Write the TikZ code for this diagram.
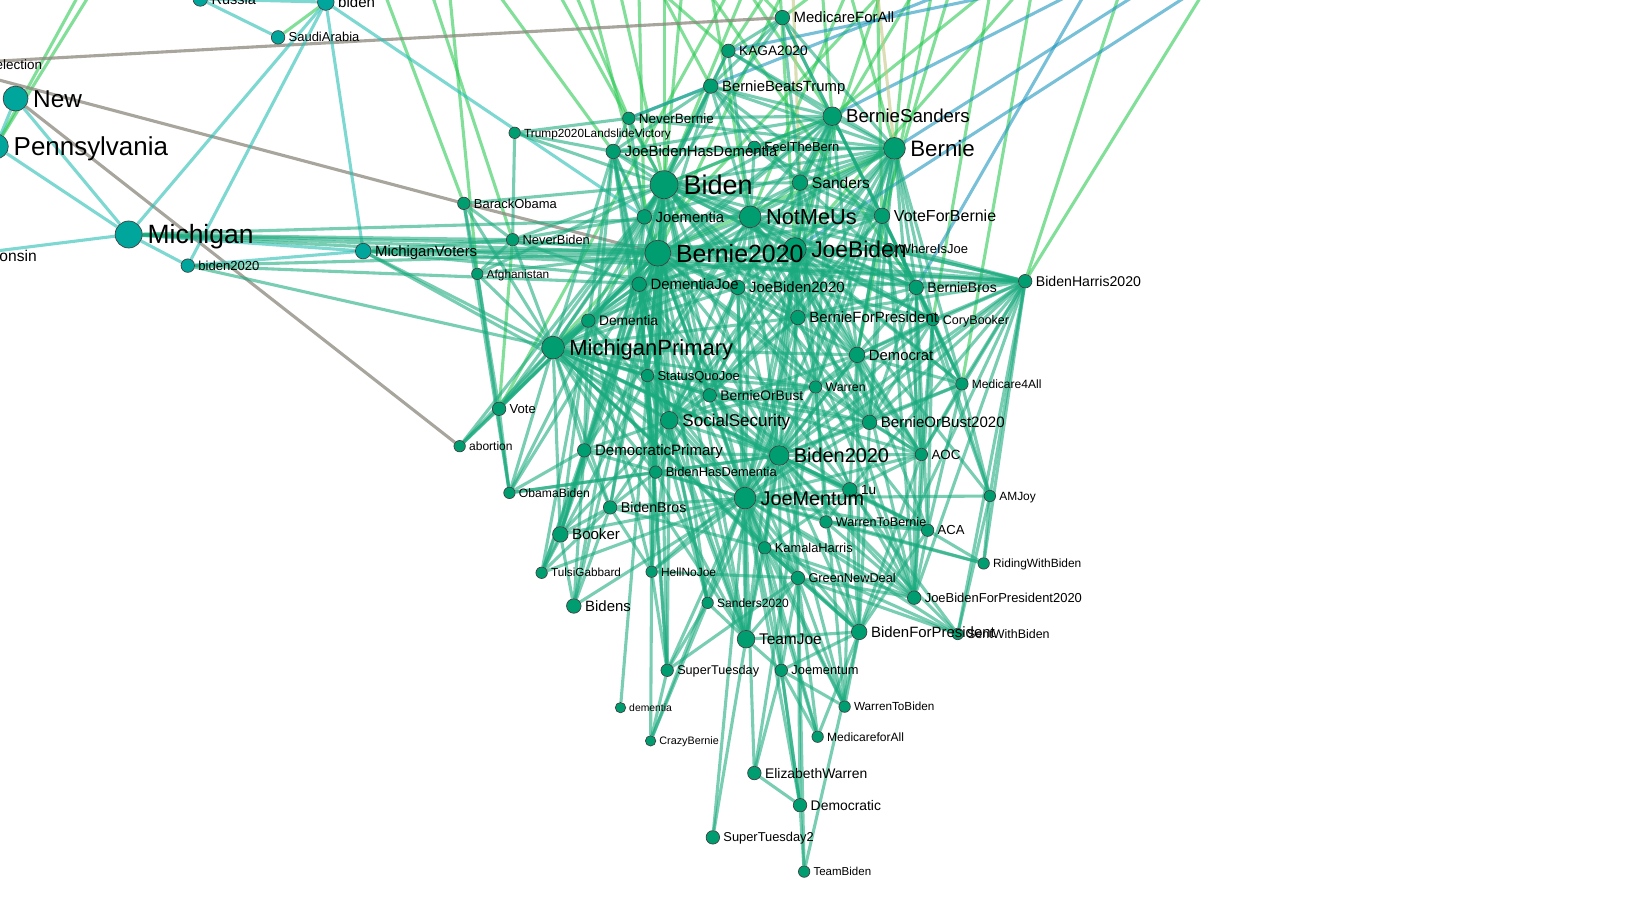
\documentclass[tikz,border=0pt]{standalone}
\usepackage{fontspec}
\setmainfont{Liberation Sans}
\definecolor{nodeG}{RGB}{0,157,113}
\definecolor{nodeT}{RGB}{0,166,155}
\definecolor{edgeM}{RGB}{25,170,125}
\definecolor{edgeT}{RGB}{40,190,180}
\definecolor{edgeG}{RGB}{40,200,80}
\definecolor{edgeGr}{RGB}{140,135,125}
\definecolor{edgeB}{RGB}{30,150,190}
\definecolor{edgeY}{RGB}{195,200,130}
\pgfdeclarelayer{bg}
\pgfdeclarelayer{edges}
\pgfdeclarelayer{labels}
\pgfsetlayers{bg,edges,main,labels}
\tikzset{
  nd/.style={circle, draw=black!75, line width=0.35pt, inner sep=0pt},
  e/.style={draw=edgeM, draw opacity=0.58, line width=1.55pt},
  et/.style={draw=edgeT, draw opacity=0.6, line width=1.55pt},
  eg/.style={draw=edgeG, draw opacity=0.58, line width=1.55pt},
  egr/.style={draw=edgeGr, draw opacity=0.75, line width=1.55pt},
  eb/.style={draw=edgeB, draw opacity=0.6, line width=1.55pt},
  ey/.style={draw=edgeY, draw opacity=0.6, line width=1.55pt},
  lbl/.style={anchor=base west, inner sep=0pt, text=black}
}
\newcommand\hn[7]{%
  \node[nd, fill=#7, minimum size={#4*1.0376pt}] (#1) at (#2,#3) {};
  \pgfmathsetmacro\fsz{#5*0.5188}%
  \pgfmathsetmacro\gapx{(1.5+0.12*#5)*0.5188}%
  \pgfmathsetmacro\gapy{0.358*\fsz}%
  \begin{pgfonlayer}{labels}
    \node[lbl, font=\fontsize{\fsz pt}{\fsz pt}\selectfont] (#1-l) at ([xshift=\gapx pt, yshift=-\gapy pt]#1.east) {#6};
  \end{pgfonlayer}}
\newcommand\hub[2]{\foreach \b in {#2}{\draw[e] (#1) -- (\b);}}
\begin{document}
\begin{tikzpicture}[x=0.5188pt, y=-0.5188pt]
\useasboundingbox (0,0) rectangle (1568,865);
\begin{pgfonlayer}{bg}
\fill[white] (0,0) rectangle (1568,865);
\end{pgfonlayer}

% ---------- left (teal) cluster ----------
\hn{Russia}{193}{-1}{7}{14}{Russia}{nodeT}
\hn{biden}{314}{2}{8}{14.5}{biden}{nodeT}
\hn{SaudiArabia}{268}{36}{6.5}{12.5}{SaudiArabia}{nodeT}
\hn{New}{15}{95}{12}{23.5}{New}{nodeT}
\hn{Pennsylvania}{-4}{141}{12}{25}{Pennsylvania}{nodeT}
\hn{Michigan}{124}{226}{13}{25.5}{Michigan}{nodeT}
\hn{biden2020}{181}{256}{6.5}{12.6}{biden2020}{nodeT}
\hn{MichiganVoters}{350}{242}{7.5}{14.4}{MichiganVoters}{nodeT}
\hn{Wisconsin}{-45}{247}{8}{15}{Wisconsin}{nodeT}
\node[nd, fill=nodeT, minimum size={7*1.0376pt}] (election) at (-58,62) {};
\begin{pgfonlayer}{labels}
\node[anchor=base east, inner sep=0pt, font=\fontsize{6.74pt}{6.74pt}\selectfont] (election-l) at (41,66.6) {election};
\end{pgfonlayer}

% ---------- main cluster ----------
\hn{Biden}{640}{178}{13.5}{26}{Biden}{nodeG}
\hn{Bernie2020}{634}{244}{12.5}{24}{Bernie2020}{nodeG}
\hn{NotMeUs}{723}{209}{10.5}{21}{NotMeUs}{nodeG}
\hn{WhereIsJoe}{857}{240}{5.5}{12.5}{WhereIsJoe}{nodeG}
\hn{JoeBiden}{766}{240}{11}{22}{JoeBiden}{nodeG}
\hn{Bernie}{862}{143}{10.5}{21.5}{Bernie}{nodeG}
\hn{BernieSanders}{802}{112}{9}{18}{BernieSanders}{nodeG}
\hn{Sanders}{771}{176}{7.5}{15}{Sanders}{nodeG}
\hn{VoteForBernie}{850}{208}{7.5}{15.4}{VoteForBernie}{nodeG}
\hn{Joementia}{621}{209}{7}{14.3}{Joementia}{nodeG}
\hn{JoeBidenHasDementia}{591}{146}{7}{14.4}{JoeBidenHasDementia}{nodeG}
\hn{FeelTheBern}{727}{142}{6}{12.5}{FeelTheBern}{nodeG}
\hn{NeverBernie}{606}{114}{6}{13}{NeverBernie}{nodeG}
\hn{Trump2020LandslideVictory}{496}{128}{5.5}{11.4}{Trump2020LandslideVictory}{nodeG}
\hn{BernieBeatsTrump}{685}{83}{7}{14.3}{BernieBeatsTrump}{nodeG}
\hn{KAGA2020}{702}{49}{6.5}{13.2}{KAGA2020}{nodeG}
\hn{MedicareForAll}{754}{17}{7}{14.4}{MedicareForAll}{nodeG}
\hn{BarackObama}{447}{196}{6}{12.5}{BarackObama}{nodeG}
\hn{NeverBiden}{494}{231}{6}{12.4}{NeverBiden}{nodeG}
\hn{Afghanistan}{460}{264}{5.5}{11.4}{Afghanistan}{nodeG}
\hn{DementiaJoe}{616}{274}{7}{14.4}{DementiaJoe}{nodeG}
\hn{JoeBiden2020}{711}{277}{7}{14.4}{JoeBiden2020}{nodeG}
\hn{BernieBros}{883}{277}{7}{13.5}{BernieBros}{nodeG}
\hn{BidenHarris2020}{988}{271}{6.5}{13.6}{BidenHarris2020}{nodeG}
\hn{Dementia}{567}{309}{6.5}{13.3}{Dementia}{nodeG}
\hn{BernieForPresident}{769}{306}{7}{14.4}{BernieForPresident}{nodeG}
\hn{CoryBooker}{899}{308}{6}{12.1}{CoryBooker}{nodeG}
\hn{MichiganPrimary}{533}{335}{11}{21.2}{MichiganPrimary}{nodeG}
\hn{Democrat}{826}{342}{7.5}{14.3}{Democrat}{nodeG}
\hn{StatusQuoJoe}{624}{362}{6}{12.5}{StatusQuoJoe}{nodeG}
\hn{Warren}{786}{373}{6}{11.9}{Warren}{nodeG}
\hn{Medicare4All}{927}{370}{6}{11.6}{Medicare4All}{nodeG}
\hn{BernieOrBust}{684}{381}{6.5}{13.3}{BernieOrBust}{nodeG}
\hn{Vote}{481}{394}{6.5}{12.6}{Vote}{nodeG}
\hn{SocialSecurity}{645}{405}{8.5}{16.4}{SocialSecurity}{nodeG}
\hn{BernieOrBust2020}{838}{407}{7}{14.5}{BernieOrBust2020}{nodeG}
\hn{abortion}{443}{430}{5.5}{11.6}{abortion}{nodeG}
\hn{DemocraticPrimary}{563}{434}{6.5}{14.5}{DemocraticPrimary}{nodeG}
\hn{Biden2020}{751}{439}{9.5}{19.2}{Biden2020}{nodeG}
\hn{AOC}{888}{438}{6}{12.9}{AOC}{nodeG}
\hn{BidenHasDementia}{632}{455}{6}{12.4}{BidenHasDementia}{nodeG}
\hn{oneu}{819}{472}{7}{13}{1u}{nodeG}
\hn{ObamaBiden}{491}{475}{5.5}{11.7}{ObamaBiden}{nodeG}
\hn{AMJoy}{954}{478}{5.5}{11.5}{AMJoy}{nodeG}
\hn{JoeMentum}{718}{480}{10.5}{19.1}{JoeMentum}{nodeG}
\hn{BidenBros}{588}{489}{6.5}{13.7}{BidenBros}{nodeG}
\hn{WarrenToBernie}{796}{503}{6}{12.1}{WarrenToBernie}{nodeG}
\hn{ACA}{894}{511}{6}{12.6}{ACA}{nodeG}
\hn{Booker}{540}{515}{7.5}{14.5}{Booker}{nodeG}
\hn{KamalaHarris}{737}{528}{6}{12.4}{KamalaHarris}{nodeG}
\hn{RidingWithBiden}{948}{543}{5.5}{11.5}{RidingWithBiden}{nodeG}
\hn{TulsiGabbard}{522}{552}{5.5}{11.3}{TulsiGabbard}{nodeG}
\hn{HellNoJoe}{628}{551}{5.5}{11.5}{HellNoJoe}{nodeG}
\hn{GreenNewDeal}{769}{557}{6.5}{12.3}{GreenNewDeal}{nodeG}
\hn{JoeBidenForPresident2020}{881}{576}{6.5}{12.5}{JoeBidenForPresident2020}{nodeG}
\hn{Sanders2020}{682}{581}{5.5}{11.6}{Sanders2020}{nodeG}
\hn{Bidens}{553}{584}{7}{14.4}{Bidens}{nodeG}
\hn{TeamJoe}{719}{616}{8.5}{14.9}{TeamJoe}{nodeG}
\hn{BidenForPresident}{828}{609}{7.5}{14.4}{BidenForPresident}{nodeG}
\hn{SentWithBiden}{923}{611}{5.5}{12}{SentWithBiden}{nodeG}
\hn{SuperTuesday}{643}{646}{6}{12.2}{SuperTuesday}{nodeG}
\hn{Joementum}{753}{646}{6}{12.4}{Joementum}{nodeG}
\hn{dementia}{598}{682}{5}{10}{dementia}{nodeG}
\hn{WarrenToBiden}{814}{681}{5.5}{11.3}{WarrenToBiden}{nodeG}
\hn{CrazyBernie}{627}{714}{5}{10.4}{CrazyBernie}{nodeG}
\hn{MedicareforAll}{788}{710}{5.5}{11.6}{MedicareforAll}{nodeG}
\hn{ElizabethWarren}{727}{745}{6.5}{13.4}{ElizabethWarren}{nodeG}
\hn{Democratic}{771}{776}{6.5}{13.4}{Democratic}{nodeG}
\hn{SuperTuesday2}{687}{807}{6.5}{12.4}{SuperTuesday2}{nodeG}
\hn{TeamBiden}{775}{840}{5.5}{11.1}{TeamBiden}{nodeG}

% off-canvas ends at the top
\foreach \x in {95,108,358,405,430,455,520,540,560,590,600,615,620,640,660,680,700,720,730,750,760,763,770,790,810,830,842,845,860,880,900,905,925,960,990,995,1000,1010,1065,1090,1100,1130,1150,1180,1200}
  {\coordinate (top\x) at (\x,-40);}

\begin{pgfonlayer}{edges}
% green edges leaving the top
\foreach \x/\n in {95/Pennsylvania,108/Pennsylvania,358/BarackObama,405/NeverBiden,430/Afghanistan,455/JoeBidenHasDementia,520/Biden,540/NeverBernie,560/Bernie2020,590/Biden,600/KAGA2020,615/Joementia,620/BernieBeatsTrump,640/Biden,660/Bernie2020,680/NotMeUs,700/BernieSanders,720/Vote,730/Biden,750/JoeBiden,760/KAGA2020,770/Bernie2020,790/BernieSanders,810/Bernie,830/NotMeUs,845/VoteForBernie,860/JoeBiden,880/Bernie,900/Sanders,905/Democrat,925/VoteForBernie,960/CoryBooker,990/BernieSanders,1000/Medicare4All,1010/JoeBiden,1090/BidenHarris2020,1180/BidenHarris2020,700/MedicareForAll,830/MedicareForAll,880/MichiganPrimary,660/BernieBros}
  {\draw[eg] (top\x) -- (\n);}
\foreach \x/\n in {1130/KAGA2020,1100/BernieSanders,1200/JoeBiden,1065/BernieBros,1150/Bernie,995/NeverBernie}
  {\draw[eb] (top\x) -- (\n);}
\foreach \x/\n in {842/Bernie,763/Sanders}
  {\draw[ey] (top\x) -- (\n);}
\draw[eg] (biden) -- (SaudiArabia);
\draw[eg] (Biden) -- (BernieSanders);
\draw[eg] (Bernie2020) -- (Bernie);
\draw[eg] (Vote) -- (NeverBiden);

% grey edges
\draw[egr] (election) -- (MedicareForAll);
\draw[egr] (election) -- (BarackObama);
\draw[egr] (BarackObama) -- (Bernie2020);
\draw[egr] (New) -- (abortion);

% teal left edges
\foreach \a/\b in {Russia/biden,Russia/SaudiArabia,biden/Michigan,biden/biden2020,biden/MichiganVoters,biden/Joementia,New/Pennsylvania,New/Michigan,Pennsylvania/Michigan,Wisconsin/Michigan,Michigan/biden2020,Michigan/MichiganVoters,biden2020/MichiganVoters}
  {\draw[et] (\a) -- (\b);}

% Michigan bundle
\hub{Michigan}{NeverBiden,Bernie2020,JoeBiden,NotMeUs,BidenHarris2020}
\hub{MichiganVoters}{NeverBiden,Bernie2020,JoeBiden,MichiganPrimary,SocialSecurity,BidenHarris2020,JoeBiden2020}
\hub{biden2020}{Bernie2020,MichiganPrimary,JoeBiden2020}

% hubs
\hub{Biden}{JoeBidenHasDementia,Joementia,NotMeUs,Bernie2020,DementiaJoe,JoeBiden2020,Dementia,MichiganPrimary,StatusQuoJoe,BernieOrBust,SocialSecurity,DemocraticPrimary,Biden2020,BidenHasDementia,JoeMentum,BidenBros,Booker,HellNoJoe,Sanders,Bernie,VoteForBernie,JoeBiden,BernieForPresident,Democrat,Warren,BernieBros,FeelTheBern,NeverBernie,Trump2020LandslideVictory,BarackObama,NeverBiden,Afghanistan,Vote,ObamaBiden,abortion,BidenHarris2020,BernieBeatsTrump,KAGA2020,MedicareForAll,dementia,TeamJoe,BernieOrBust2020,AOC,CoryBooker}
\hub{Bernie2020}{Joementia,NotMeUs,DementiaJoe,JoeBiden2020,Dementia,MichiganPrimary,StatusQuoJoe,BernieOrBust,SocialSecurity,DemocraticPrimary,Biden2020,BidenHasDementia,JoeMentum,BidenBros,Booker,HellNoJoe,Sanders,BernieSanders,VoteForBernie,JoeBiden,BernieForPresident,Democrat,Warren,BernieBros,NeverBiden,Afghanistan,Vote,ObamaBiden,abortion,BidenHarris2020,TeamJoe,Bidens,TulsiGabbard,SuperTuesday,Sanders2020,GreenNewDeal,KamalaHarris,BernieOrBust2020,oneu,WhereIsJoe,JoeBidenHasDementia,BernieBeatsTrump,CoryBooker}
\hub{NotMeUs}{JoeBiden,Bernie,BernieSanders,Sanders,VoteForBernie,FeelTheBern,BernieBeatsTrump,JoeBidenHasDementia,MichiganPrimary,Joementia,DementiaJoe,BernieForPresident,Democrat,BernieOrBust,SocialSecurity,Biden2020,JoeMentum,BernieBros,BidenHarris2020,StatusQuoJoe,Warren,BernieOrBust2020,AOC,Medicare4All,CoryBooker,DemocraticPrimary,KAGA2020}
\hub{JoeBiden}{Bernie,BernieSanders,Sanders,VoteForBernie,WhereIsJoe,BernieBros,BidenHarris2020,JoeBiden2020,BernieForPresident,Democrat,MichiganPrimary,SocialSecurity,Biden2020,JoeMentum,Warren,BernieOrBust2020,AOC,CoryBooker,Medicare4All,TeamJoe,DementiaJoe,Dementia,BidenHasDementia,GreenNewDeal,KamalaHarris,JoeBidenForPresident2020,AMJoy}
\hub{Bernie}{BernieSanders,Sanders,VoteForBernie,FeelTheBern,BernieBros,BernieForPresident,Democrat,BernieOrBust,BernieOrBust2020,CoryBooker,Medicare4All,AOC,MichiganPrimary,SocialSecurity,JoeMentum,Biden2020,Warren,JoeBidenHasDementia,BernieBeatsTrump,NeverBernie,Joementia,DementiaJoe,MedicareForAll,KAGA2020}
\hub{BernieSanders}{Sanders,VoteForBernie,FeelTheBern,BernieBeatsTrump,MedicareForAll,KAGA2020,JoeBidenHasDementia,Joementia,BernieForPresident,Democrat,BernieBros,Warren,SocialSecurity,MichiganPrimary,JoeMentum,BernieOrBust,NeverBernie}
\hub{MichiganPrimary}{Joementia,DementiaJoe,Dementia,StatusQuoJoe,BernieOrBust,SocialSecurity,DemocraticPrimary,Biden2020,BidenHasDementia,JoeMentum,BidenBros,Booker,Vote,abortion,ObamaBiden,NeverBiden,BarackObama,Afghanistan,JoeBidenHasDementia,BernieForPresident,Democrat,Warren,BernieOrBust2020,AOC,KamalaHarris,GreenNewDeal,TeamJoe,BidenForPresident,JoeBiden2020,oneu,ACA}
\hub{JoeMentum}{Biden2020,BidenHasDementia,SocialSecurity,BernieOrBust,StatusQuoJoe,DemocraticPrimary,BidenBros,Booker,KamalaHarris,WarrenToBernie,ACA,oneu,GreenNewDeal,TeamJoe,BidenForPresident,Sanders2020,SuperTuesday,Joementum,HellNoJoe,CrazyBernie,WarrenToBiden,MedicareforAll,ElizabethWarren,SuperTuesday2,JoeBidenForPresident2020,RidingWithBiden,SentWithBiden,AOC,BernieOrBust2020,Democrat,Warren,BernieForPresident,JoeBiden2020,DementiaJoe,Dementia,AMJoy,BidenHarris2020,TulsiGabbard,Bidens,Democratic}
\hub{Biden2020}{SocialSecurity,BernieOrBust,Warren,BernieOrBust2020,AOC,oneu,BidenHasDementia,DemocraticPrimary,KamalaHarris,GreenNewDeal,TeamJoe,BidenForPresident,Joementum,JoeBidenForPresident2020,ACA,WarrenToBernie,BidenHarris2020,Democrat,BernieForPresident,StatusQuoJoe,Sanders2020,HellNoJoe,DementiaJoe,JoeBiden2020,Medicare4All,CoryBooker,WarrenToBiden,SentWithBiden}
\hub{SocialSecurity}{StatusQuoJoe,BernieOrBust,DemocraticPrimary,BidenHasDementia,BidenBros,Booker,Sanders2020,SuperTuesday,TeamJoe,Democrat,Warren,DementiaJoe,JoeBiden2020,BernieForPresident,HellNoJoe,KamalaHarris}
\hub{TeamJoe}{BidenForPresident,Joementum,SuperTuesday2,Sanders2020,KamalaHarris,GreenNewDeal,BidenHasDementia,DementiaJoe,StatusQuoJoe,JoeBiden2020}
\hub{BidenForPresident}{KamalaHarris,GreenNewDeal,WarrenToBiden,TeamBiden,oneu,ACA,BernieOrBust2020,WarrenToBernie,AOC,Democrat,Joementum,MedicareforAll,BidenHarris2020}
\hub{BidenHarris2020}{BernieBros,BernieForPresident,JoeBiden2020,JoeBidenForPresident2020,AMJoy,Medicare4All,AOC,SentWithBiden,Democrat,WhereIsJoe,CoryBooker,BernieOrBust2020,RidingWithBiden,oneu}
\hub{JoeBidenForPresident2020}{ACA,AOC,Democrat,GreenNewDeal,KamalaHarris,WarrenToBernie,BernieBros,BernieForPresident,JoeBiden2020,CoryBooker}
\hub{SentWithBiden}{AMJoy,KamalaHarris,GreenNewDeal,oneu}
\hub{RidingWithBiden}{ACA,WarrenToBernie,AMJoy}
\hub{AMJoy}{CoryBooker,Medicare4All,BernieBros}
\hub{ACA}{WarrenToBernie,oneu,Democrat,CoryBooker,Warren}
\hub{AOC}{Democrat,BernieBros,CoryBooker,Warren,oneu,BernieOrBust2020}
\hub{ElizabethWarren}{Democratic,Joementum}
\hub{Democratic}{TeamBiden,GreenNewDeal,Joementum,KamalaHarris}
\hub{TeamBiden}{GreenNewDeal}
\hub{SuperTuesday}{Sanders2020,HellNoJoe,GreenNewDeal,CrazyBernie,DementiaJoe,StatusQuoJoe}
\hub{CrazyBernie}{HellNoJoe,Sanders2020}
\hub{HellNoJoe}{GreenNewDeal,BidenBros,StatusQuoJoe,Dementia}
\hub{Booker}{TulsiGabbard,Bidens,BidenBros,DemocraticPrimary,Dementia,DementiaJoe}
\hub{TulsiGabbard}{BidenBros,DemocraticPrimary,Dementia,StatusQuoJoe}
\hub{Bidens}{BidenBros,DemocraticPrimary,Joementia}
\hub{BidenBros}{DemocraticPrimary,BidenHasDementia,KamalaHarris}
\hub{ObamaBiden}{Vote,Afghanistan,BarackObama,DemocraticPrimary,BidenHasDementia,Biden2020}
\hub{Vote}{abortion,Afghanistan}
\hub{Afghanistan}{BarackObama,NeverBiden}
\hub{NeverBiden}{Trump2020LandslideVictory,BarackObama,DementiaJoe,Joementia}
\hub{Trump2020LandslideVictory}{JoeBidenHasDementia,NeverBernie}
\hub{NeverBernie}{BernieBeatsTrump,JoeBidenHasDementia,Joementia}
\hub{BernieBeatsTrump}{KAGA2020,MedicareForAll,JoeBidenHasDementia,Joementia,Sanders,FeelTheBern,VoteForBernie}
\hub{KAGA2020}{MedicareForAll}
\hub{MedicareForAll}{Sanders,VoteForBernie}
\hub{JoeBidenHasDementia}{Joementia,DementiaJoe,Dementia,StatusQuoJoe,BidenHasDementia,DemocraticPrimary,SocialSecurity,FeelTheBern}
\hub{FeelTheBern}{Sanders,VoteForBernie}
\hub{Sanders}{VoteForBernie,Democrat,BernieForPresident,Warren,BernieBros}
\hub{VoteForBernie}{BernieBros,BernieForPresident,Democrat,BernieOrBust2020,CoryBooker,Medicare4All,AOC,BernieOrBust,Warren}
\hub{WhereIsJoe}{BernieBros,JoeBidenForPresident2020}
\hub{BernieBros}{BernieForPresident,CoryBooker,Democrat,BernieOrBust2020,ACA,Medicare4All}
\hub{CoryBooker}{Democrat,Warren,Medicare4All,BernieOrBust2020}
\hub{Democrat}{Warren,BernieOrBust2020,Medicare4All,oneu}
\hub{Medicare4All}{BernieOrBust2020,AOC,ACA}
\hub{Dementia}{DementiaJoe,StatusQuoJoe,DemocraticPrimary,BidenHasDementia,Vote}
\hub{DementiaJoe}{Joementia,StatusQuoJoe,BidenHasDementia,BernieOrBust,Sanders2020}
\hub{StatusQuoJoe}{BernieOrBust,BidenHasDementia,Sanders2020,Warren}
\hub{BernieOrBust}{Warren,BernieOrBust2020,BernieForPresident,oneu,WarrenToBernie}
\hub{Warren}{WarrenToBernie,WarrenToBiden,oneu,ElizabethWarren}
\hub{oneu}{WarrenToBernie,KamalaHarris,WarrenToBiden}
\hub{KamalaHarris}{GreenNewDeal,WarrenToBiden,MedicareforAll}
\hub{GreenNewDeal}{MedicareforAll,WarrenToBiden,Joementum}
\hub{Joementum}{MedicareforAll,WarrenToBiden}
\end{pgfonlayer}
\end{tikzpicture}
\end{document}
